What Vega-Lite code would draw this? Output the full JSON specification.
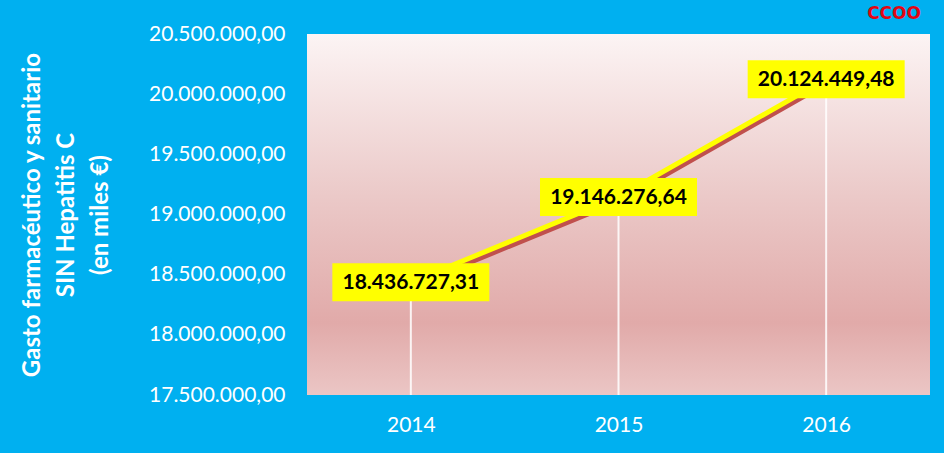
{
  "$schema": "https://vega.github.io/schema/vega-lite/v6.json",
  "autosize": "none",
  "width": 623,
  "height": 361,
  "padding": {"left": 307, "top": 34, "right": 14, "bottom": 58},
  "background": "#00B0F0",
  "view": {
    "stroke": null,
    "fill": {
      "gradient": "linear",
      "x1": 0, "y1": 0, "x2": 0, "y2": 1,
      "stops": [
        {"offset": 0, "color": "#FCF4F4"},
        {"offset": 0.45, "color": "#EBC9C8"},
        {"offset": 0.8, "color": "#E1AAA9"},
        {"offset": 1, "color": "#EBC6C5"}
      ]
    }
  },
  "title": {
    "text": "CCOO",
    "anchor": "end",
    "orient": "top",
    "color": "#E30613",
    "font": "DejaVu Sans",
    "fontSize": 17,
    "fontWeight": "bold",
    "offset": 0,
    "dx": -9
  },
  "data": {
    "values": [
      {"year": "2014", "value": 18436727.31},
      {"year": "2015", "value": 19146276.64},
      {"year": "2016", "value": 20124449.48}
    ]
  },
  "encoding": {
    "x": {
      "field": "year",
      "type": "ordinal",
      "scale": {"type": "point", "padding": 0.5},
      "axis": {
        "title": null,
        "labelAngle": 0,
        "labelColor": "white",
        "labelFont": "Lato",
        "labelFontSize": 21,
        "labelPadding": 19,
        "ticks": false,
        "domain": false,
        "grid": false
      }
    },
    "y": {
      "field": "value",
      "type": "quantitative",
      "scale": {"domain": [17500000, 20500000], "nice": false, "zero": false},
      "axis": {
        "title": ["Gasto farmacéutico y sanitario", "SIN Hepatitis C", "(en miles €)"],
        "titleColor": "white",
        "titleFont": "Lato",
        "titleFontSize": 24,
        "titleFontWeight": "bold",
        "titleLineHeight": 34,
        "titlePadding": 36,
        "values": [17500000, 18000000, 18500000, 19000000, 19500000, 20000000, 20500000],
        "format": ",.2f",
        "labelColor": "white",
        "labelFont": "Lato",
        "labelFontSize": 21,
        "labelPadding": 22,
        "ticks": false,
        "domain": false,
        "grid": false
      }
    }
  },
  "layer": [
    {
      "mark": {"type": "rule", "color": "white", "strokeWidth": 2, "opacity": 0.85},
      "encoding": {"y2": {"datum": 17500000}}
    },
    {
      "mark": {"type": "line", "color": "#C0504D", "strokeWidth": 5, "yOffset": 4, "xOffset": 1}
    },
    {
      "mark": {"type": "line", "color": "#FFFF00", "strokeWidth": 5}
    },
    {
      "mark": {
        "type": "point",
        "shape": "M-1,-0.242H1V0.242H-1Z",
        "size": 24649,
        "filled": true,
        "color": "#FFFF00",
        "opacity": 1,
        "strokeWidth": 0
      }
    },
    {
      "mark": {
        "type": "text",
        "font": "Lato",
        "fontSize": 21,
        "fontWeight": "bold",
        "color": "black",
        "baseline": "middle",
        "align": "center",
        "dy": 1
      },
      "encoding": {
        "text": {"field": "value", "type": "quantitative", "format": ",.2f"}
      }
    }
  ],
  "config": {
    "locale": {
      "number": {"decimal": ",", "thousands": ".", "grouping": [3], "currency": ["", " €"]}
    }
  }
}
